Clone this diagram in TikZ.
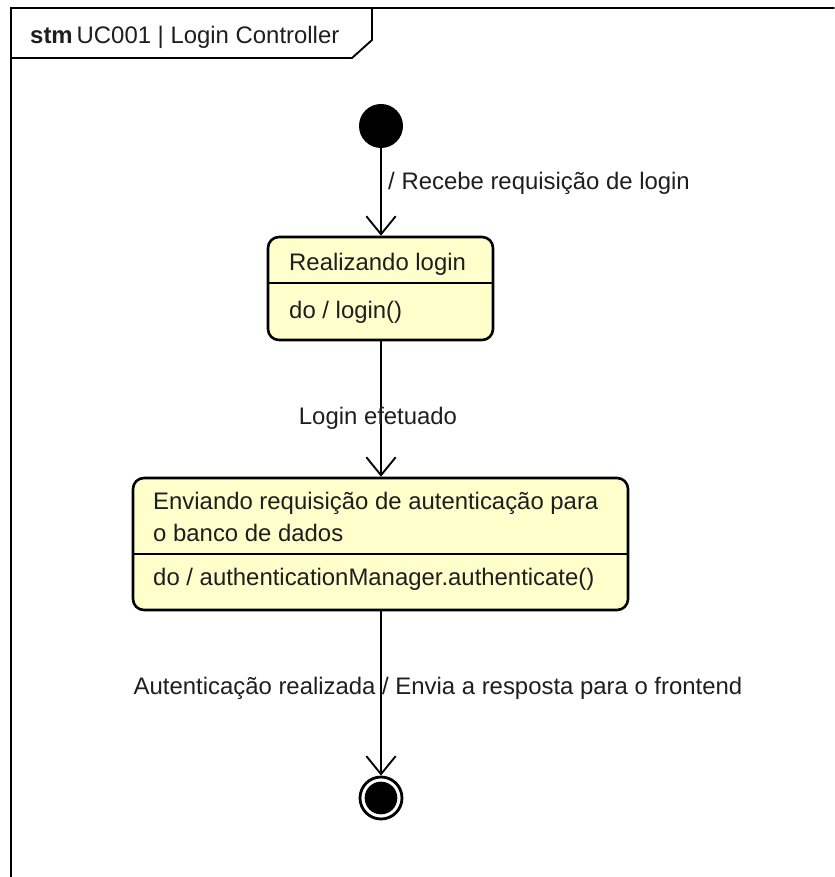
\documentclass[tikz,border=0pt]{standalone}
\usepackage{fontspec}
\setmainfont{Liberation Sans}
\usetikzlibrary{arrows.meta}
\usepackage{xcolor}
\definecolor{statefill}{RGB}{255,255,204}
\definecolor{inkgray}{RGB}{30,30,30}

\begin{document}
\begin{tikzpicture}[x=0.03cm,y=-0.03cm,>={Straight Barb[length=0.54cm,width=0.88cm]},
  font=\fontsize{20.4}{24}\selectfont,line cap=round,
  state/.style={draw=black,line width=2.2pt,fill=statefill,rounded corners=0.33cm,inner sep=0pt},
  trans/.style={->,line width=1.6pt},
  txt/.style={text=inkgray,inner sep=0pt,anchor=west}]
\useasboundingbox (0,0) rectangle (834,877);
% frame and its tab
\draw[line width=1.6pt] (11,877) -- (11,8) -- (834,8);
\draw[line width=1.6pt] (11,58) -- (352,58) -- (372,40) -- (372,8);
\node[txt] (title) at (30,37) {\textbf{stm}\,UC001 | Login Controller};
% pseudo states
\node[circle,fill=black,minimum size=1.32cm,inner sep=0pt] (ini) at (381,126) {};
\node[circle,draw=black,line width=2.4pt,fill=white,minimum size=1.26cm,inner sep=0pt] (fin) at (381,798) {};
\fill[black] (fin.center) circle (0.49cm);
% states
\node[state,minimum width=6.75cm,minimum height=3.09cm] (s1) at (380.5,288.5) {};
\draw[line width=1.4pt] (268,283) -- (493,283);
\node[txt] (s1name) at (289,264) {Realizando login};
\node[txt] (s1do) at (289,312) {do / login()};
\node[state,minimum width=14.85cm,minimum height=3.96cm] (s2) at (380.5,544) {};
\draw[line width=1.4pt] (133,554) -- (628,554);
\node[txt] (s2name) at (153,503) {Enviando requisição de autenticação para};
\node[txt] (s2name2) at (153,533) {o banco de dados};
\node[txt] (s2do) at (153,579) {do / authenticationManager.authenticate()};
% transitions
\draw[trans] (ini) -- (s1.north -| ini);
\node[txt] (t1) at (388,183) {/ Recebe requisição de login};
\draw[trans] (s1.south -| ini) -- (s2.north -| ini);
\node[text=inkgray,inner sep=0pt] (t2) at (378,418) {Login efetuado};
\draw[trans] (s2.south -| ini) -- (fin);
\node[text=inkgray,inner sep=0pt] (t3) at (438,688) {Autenticação realizada / Envia a resposta para o frontend};
\end{tikzpicture}
\end{document}
